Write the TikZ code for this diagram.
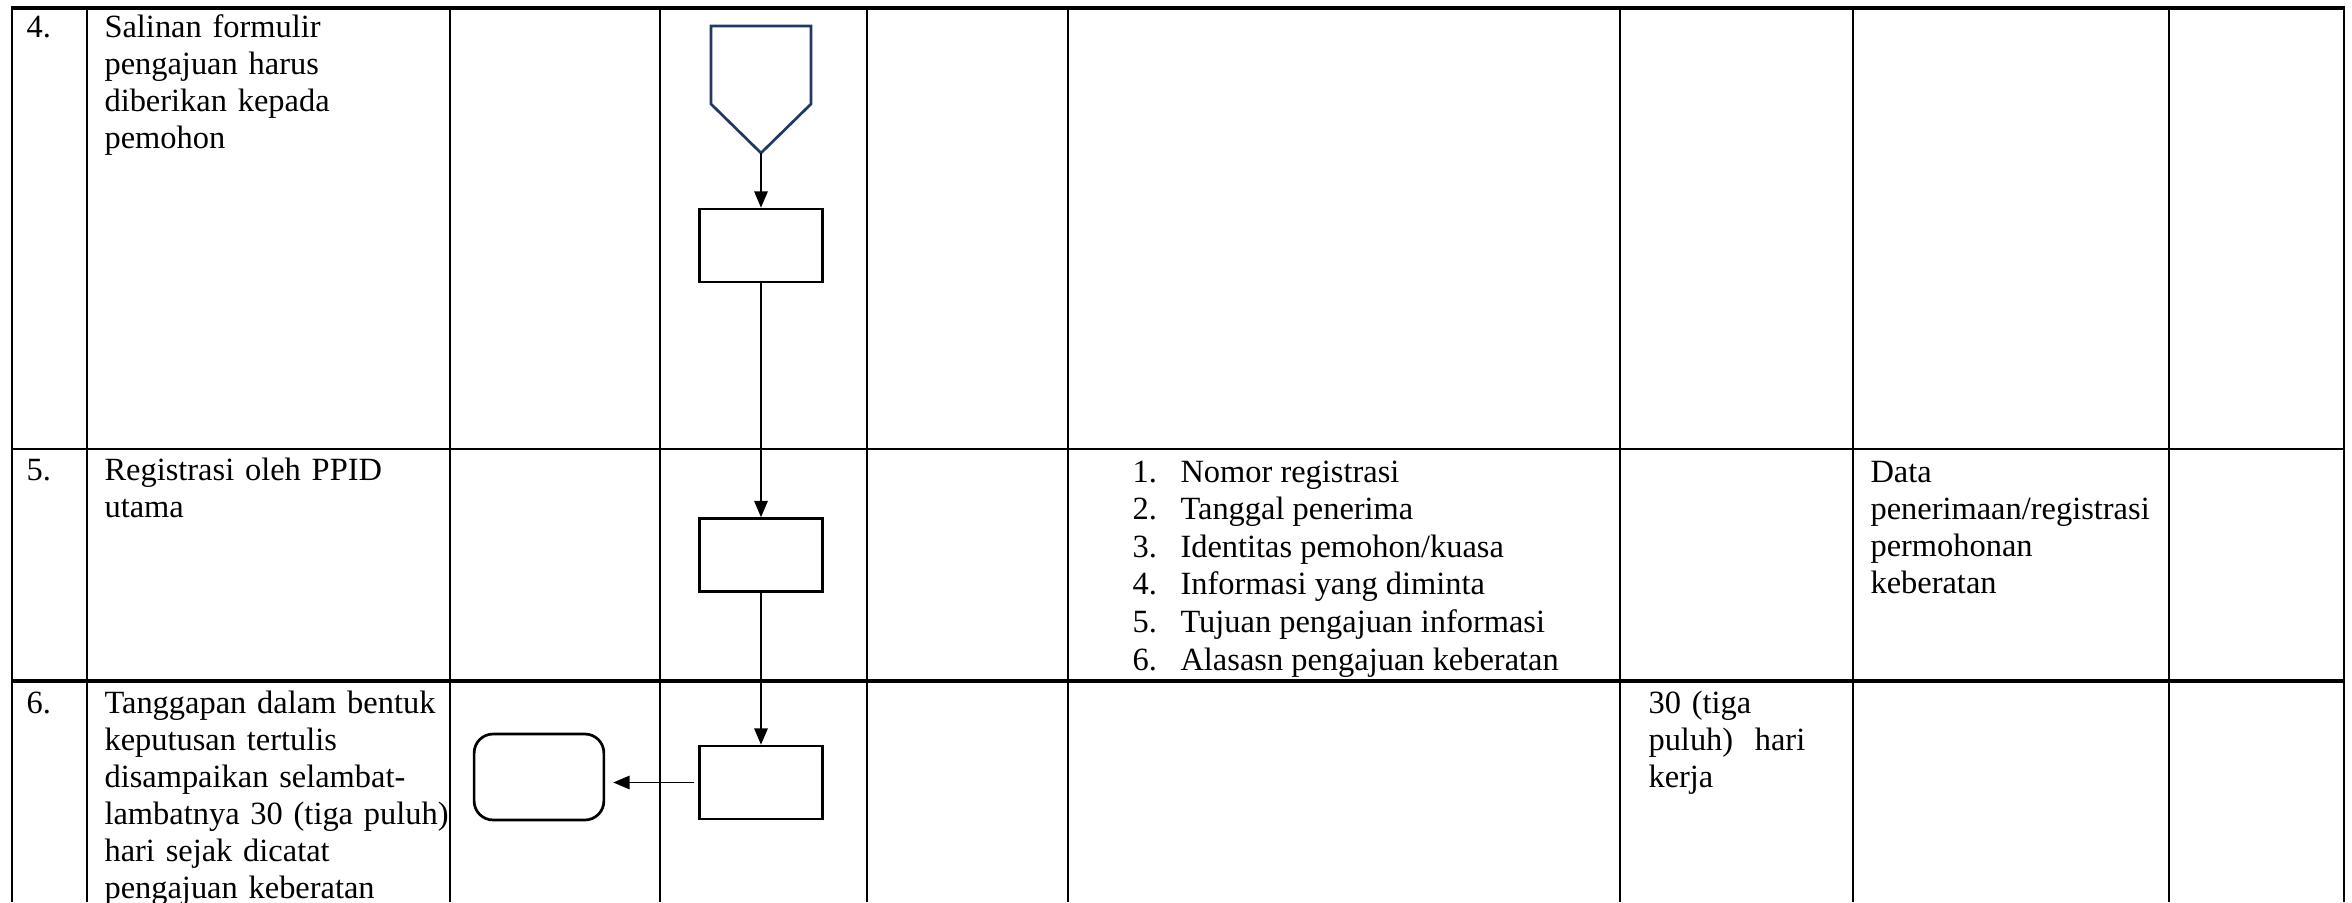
\documentclass[tikz,border=0pt]{standalone}
\usepackage{fontspec}
\setmainfont{Liberation Serif}
\usetikzlibrary{arrows.meta}
\definecolor{navy}{HTML}{1F3864}
\begin{document}
\begin{tikzpicture}[x=0.37pt,y=-0.37pt,
  every node/.style={font=\fontsize{12}{13.75}\selectfont},
  txt/.style={anchor=base west,inner sep=0pt,text width=160pt,align=left},
  grid/.style={line width=0.7pt},
  rowrule/.style={line width=1.2pt},
  proc/.style={draw,line width=1pt,minimum width=45.5pt,minimum height=27pt,inner sep=0pt},
  term/.style={draw,line width=1pt,rounded corners=7pt,minimum width=48pt,minimum height=31.8pt,inner sep=0pt},
  offpage/.style={draw=navy,line width=1pt},
  flow/.style={line width=0.45pt,-{Triangle[length=6pt,width=5pt]}}]
\useasboundingbox (0,0) rectangle (2352,902);
% table
\foreach \x in {12,87,450,660,867,1068,1620,1853,2169,2344}
  \draw[grid] (\x,8) -- (\x,902);
\draw[rowrule] (11,8) -- (2345,8);
\draw[grid] (12,449) -- (2344,449);
\draw[rowrule] (11,681) -- (2345,681);
% row 4
\node[txt] (n4) at (26,37) {4.};
\node[txt] (t4) at (104,37) {Salinan formulir\\ pengajuan harus\\ diberikan kepada\\ pemohon};
\draw[offpage] (711,26) -- (811,26) -- (811,104) -- (761,153) coordinate (pent) -- (711,104) -- cycle;
\node[proc] (p1) at (761,245.5) {};
\draw[flow] (pent) -- (p1.north);
% row 5
\node[txt] (n5) at (26,480) {5.};
\node[txt] (t5) at (104,480) {Registrasi oleh PPID\\ utama};
\node[proc] (p2) at (761,555) {};
\draw[flow] (p1.south) -- (p2.north);
\foreach \i/\s in {1/Nomor registrasi,2/Tanggal penerima,3/{Identitas pemohon/kuasa},4/Informasi yang diminta,5/Tujuan pengajuan informasi,6/Alasasn pengajuan keberatan}{
  \node[anchor=base west,inner sep=0pt] (num\i) at (1132,{444.4+37.6*\i}) {\i.};
  \node[anchor=base west,inner sep=0pt] (item\i) at (1180,{444.4+37.6*\i}) {\s};
}
\node[txt] (data) at (1870,482) {Data\\ penerimaan/registrasi\\ permohonan\\ keberatan};
% row 6
\node[txt] (n6) at (26,713) {6.};
\node[txt] (t6) at (104,713) {Tanggapan dalam bentuk\\ keputusan tertulis\\ disampaikan selambat-\\ lambatnya 30 (tiga puluh)\\ hari sejak dicatat\\ pengajuan keberatan};
\node[proc] (p3) at (761,782.5) {};
\draw[flow] (p2.south) -- (p3.north);
\node[term] (end) at (539,777) {};
\draw[flow,shorten >=3pt,shorten <=1.5pt] (p3.west) -- (p3.west -| end.east);
\node[txt] (hari) at (1648,713) {30 (tiga\\ puluh)\ \ hari\\ kerja};
\end{tikzpicture}
\end{document}
